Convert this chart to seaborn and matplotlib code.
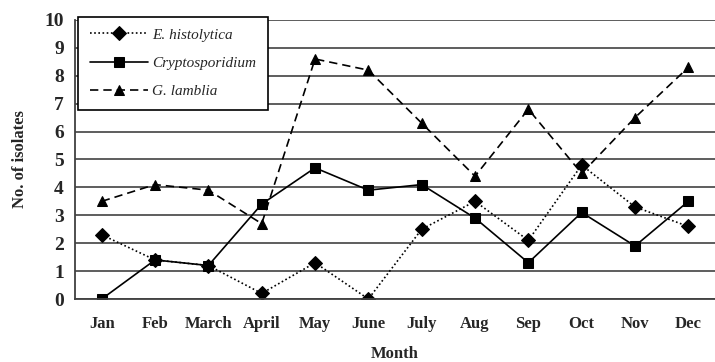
import matplotlib
matplotlib.use("Agg")

import matplotlib.pyplot as plt
import pandas as pd
import seaborn as sns

months = ["Jan", "Feb", "March", "April", "May", "June",
          "July", "Aug", "Sep", "Oct", "Nov", "Dec"]
e_histolytica = [2.3, 1.4, 1.2, 0.2, 1.3, 0.0, 2.5, 3.5, 2.1, 4.8, 3.3, 2.6]
cryptosporidium = [0.0, 1.4, 1.2, 3.4, 4.7, 3.9, 4.1, 2.9, 1.3, 3.1, 1.9, 3.5]
g_lamblia = [3.5, 4.1, 3.9, 2.7, 8.6, 8.2, 6.3, 4.4, 6.8, 4.5, 6.5, 8.3]

series = {
    "E. histolytica": e_histolytica,
    "Cryptosporidium": cryptosporidium,
    "G. lamblia": g_lamblia,
}

rows = []
for name, vals in series.items():
    for i, v in enumerate(vals):
        rows.append({"pos": i, "month": months[i], "species": name, "value": v})
df = pd.DataFrame(rows)

sns.set_theme(style="white")
plt.rcParams["font.family"] = ["Liberation Serif", "DejaVu Serif"]

fig = plt.figure(figsize=(7.15, 3.62), dpi=100)
ax = fig.add_axes([0.105, 0.174, 0.895, 0.771])

# horizontal gridlines
for y in range(0, 11):
    ax.axhline(y, color="#505050", lw=1.3, zorder=0)

sns.lineplot(data=df, x="pos", y="value", hue="species", style="species",
             palette=["black"] * 3,
             dashes={"E. histolytica": (1, 1.5), "Cryptosporidium": "",
                     "G. lamblia": (5, 3)},
             markers={"E. histolytica": "D", "Cryptosporidium": "s",
                      "G. lamblia": "^"},
             markersize=7.5, markeredgecolor="black", lw=1.2, ax=ax, legend="full")

ax.set_xlim(-0.5, 11.37)
ax.set_ylim(0, 10)
ax.set_yticks(range(0, 11))
ax.set_yticklabels([str(i) for i in range(0, 11)], fontsize=14, fontweight="bold")
ax.set_xticks(range(12))
ax.set_xticklabels(months, fontsize=12, fontweight="bold")
ax.set_xticks([i + 0.5 for i in range(-1, 12)], minor=True)
ax.tick_params(axis="x", which="major", length=0, pad=12)
ax.tick_params(axis="x", which="minor", length=5, width=1.2, direction="out", color="#404040")
ax.tick_params(axis="y", length=5, width=1.2, direction="out", color="#404040", pad=3)

for s in ["top", "right"]:
    ax.spines[s].set_visible(False)
for s in ["left", "bottom"]:
    ax.spines[s].set_color("#404040")
    ax.spines[s].set_linewidth(1.3)

ax.set_xlabel("Month", fontsize=12, fontweight="bold", labelpad=10)
ax.set_ylabel("No. of isolates", fontsize=12, fontweight="bold", labelpad=12)

handles, labels = ax.get_legend_handles_labels()
leg = ax.legend(handles, labels, loc="upper left", bbox_to_anchor=(0.005, 1.012),
                frameon=True, fancybox=False, edgecolor="black", framealpha=1,
                prop={"style": "italic", "size": 11}, handlelength=3.8,
                labelspacing=0.95, borderpad=0.75, handletextpad=0.3,
                borderaxespad=0)
leg.get_frame().set_linewidth(1.2)

fig.savefig("out.png", dpi=100)
